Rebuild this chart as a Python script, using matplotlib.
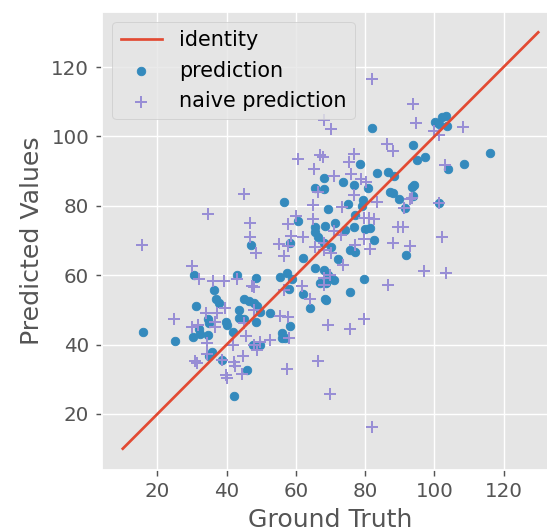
import numpy as np
import matplotlib
matplotlib.use("Agg")
import matplotlib.pyplot as plt

# identity line end points
identity = [10, 130]

# model predictions (ground truth, predicted)
pred_true = [
    82.1, 93.8, 100.2, 102.2, 103.3, 101.2, 103.6, 116.1, 97.3, 94.9,
    108.6, 103.8, 78.6, 68.0, 73.5, 83.4, 86.5, 88.2, 76.8, 80.7,
    65.5, 68.0, 94.0, 93.5, 87.1, 88.1, 89.9, 93.7, 56.7, 69.4,
    75.0, 79.5, 79.0, 91.5, 101.2, 46.9, 60.6, 68.5, 71.4, 65.5,
    65.5, 58.2, 62.2, 66.5, 68.0, 70.0, 72.2, 65.5, 68.0, 69.2,
    70.9, 74.3, 76.7, 80.0, 81.5, 82.5, 77.1, 91.8, 75.6, 77.1,
    79.6, 67.0, 68.8, 75.7, 62.0, 64.0, 68.5, 68.8, 30.5, 43.0,
    48.6, 55.3, 57.4, 58.9, 36.3, 57.9, 36.9, 37.8, 31.1, 43.5,
    44.9, 46.4, 47.8, 48.8, 49.7, 52.4, 43.7, 44.9, 48.6, 34.6,
    34.9, 39.9, 40.2, 31.9, 32.4, 30.2, 34.6, 41.9, 15.8, 25.0,
    56.0, 56.0, 56.9, 58.2, 47.7, 49.5, 35.7, 35.0, 38.6, 45.9,
    42.2,
]
pred_value = [
    102.3, 97.6, 104.2, 105.5, 105.9, 103.6, 103.0, 95.2, 94.2, 93.1,
    92.0, 90.5, 92.0, 88.1, 87.0, 89.5, 89.7, 88.7, 85.9, 85.2,
    85.1, 84.8, 86.0, 85.3, 84.1, 83.6, 81.9, 82.8, 81.1, 79.2,
    80.5, 81.7, 79.9, 79.3, 80.7, 68.7, 75.7, 74.2, 75.1, 73.8,
    72.5, 69.4, 64.9, 70.9, 69.4, 68.2, 64.7, 62.2, 61.5, 60.1,
    58.5, 73.0, 73.8, 73.2, 73.7, 70.1, 77.3, 65.8, 67.3, 66.8,
    59.0, 57.8, 57.8, 55.3, 54.6, 50.5, 53.2, 52.8, 60.1, 60.1,
    59.3, 59.4, 60.6, 58.8, 55.8, 55.9, 53.1, 52.1, 51.2, 49.9,
    53.0, 52.6, 52.0, 51.2, 49.5, 49.2, 47.6, 47.3, 46.6, 47.5,
    46.1, 46.5, 45.6, 44.5, 43.1, 42.3, 42.8, 43.5, 43.5, 41.0,
    43.3, 42.0, 41.8, 45.3, 39.9, 39.8, 38.0, 36.6, 35.6, 32.7,
    25.3,
]

# naive predictions (ground truth, predicted)
naive_true = [
    82.1, 93.7, 68.2, 70.0, 94.7, 99.8, 101.3, 108.3, 86.4, 88.1,
    60.5, 66.9, 67.9, 76.7, 75.2, 65.2, 70.9, 75.8, 78.8, 80.2,
    66.5, 76.7, 103.1, 93.6, 93.0, 91.3, 101.2, 44.9, 34.6, 15.6,
    46.7, 46.7, 48.5, 30.0, 59.9, 57.8, 58.6, 62.1, 55.0, 57.7,
    56.6, 65.0, 73.4, 83.4, 64.9, 70.9, 73.0, 65.5, 68.0, 68.0,
    70.2, 73.5, 79.8, 81.2, 82.5, 79.6, 81.4, 77.1, 88.1, 89.4,
    90.9, 93.0, 102.1, 97.0, 103.3, 69.8, 68.2, 68.0, 32.1, 36.2,
    39.3, 43.1, 47.3, 47.8, 56.7, 61.7, 64.1, 86.7, 37.2, 34.0,
    39.5, 47.8, 55.5, 57.7, 24.8, 36.5, 36.7, 44.9, 30.0, 31.7,
    45.7, 57.9, 69.3, 75.6, 79.8, 34.3, 34.3, 31.0, 31.5, 38.7,
    42.0, 42.5, 44.6, 41.8, 48.0, 49.7, 52.4, 48.8, 44.4, 39.9,
    40.1, 57.3, 66.3, 69.9, 82.1,
]
naive_value = [
    116.5, 109.3, 104.6, 102.0, 103.9, 101.6, 100.5, 102.8, 97.9, 95.7,
    93.6, 94.5, 94.2, 94.8, 92.5, 90.5, 88.6, 89.1, 87.8, 87.0,
    84.0, 83.1, 91.8, 82.3, 81.9, 79.3, 80.7, 83.5, 77.5, 68.7,
    75.1, 70.9, 66.3, 62.6, 77.2, 74.7, 71.4, 71.0, 68.9, 68.4,
    65.4, 80.2, 79.6, 81.0, 76.1, 72.8, 71.6, 68.0, 69.3, 67.3,
    66.5, 62.9, 76.4, 76.4, 76.2, 70.5, 67.5, 68.7, 69.3, 73.9,
    73.9, 68.4, 71.0, 61.2, 60.7, 60.1, 59.1, 57.3, 59.0, 58.2,
    58.2, 58.9, 57.0, 56.6, 55.8, 56.8, 53.2, 57.2, 49.0, 49.0,
    50.6, 50.0, 48.1, 48.0, 47.3, 46.4, 45.2, 46.1, 45.2, 45.6,
    42.6, 41.9, 45.7, 44.6, 47.3, 40.6, 37.2, 35.2, 34.6, 35.5,
    35.1, 33.8, 36.7, 39.9, 39.9, 40.8, 41.2, 38.3, 31.6, 31.1,
    30.4, 32.9, 35.4, 25.8, 16.3,
]

plt.style.use('ggplot')
plt.rcParams['xtick.labelsize'] = 11
plt.rcParams['ytick.labelsize'] = 11
plt.rcParams['axes.labelsize'] = 14
plt.rcParams['legend.fontsize'] = 11.5

fig = plt.figure(figsize=(547 / 130, 531 / 130), dpi=130)
# axes run past the right edge, as in the reference crop
ax = fig.add_axes([102 / 547, 61.5 / 531, 457 / 547, 458 / 531])

ax.plot(identity, identity, label='identity')
ax.scatter(pred_true, pred_value, s=22, color='#348ABD', label='prediction')
ax.scatter(naive_true, naive_value, s=45, marker='+', linewidths=1.1,
           color='#988ED5', label='naive prediction')

ax.set_xlim(4, 136)
ax.set_ylim(4, 136)
ax.set_xlabel('Ground Truth')
ax.set_ylabel('Predicted Values')
ax.legend(loc='upper left')

fig.savefig('out.png', dpi=130)
